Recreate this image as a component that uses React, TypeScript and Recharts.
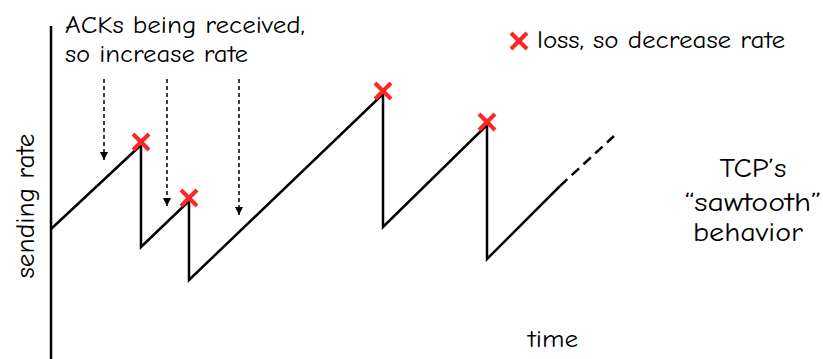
import { LineChart, Line, XAxis, YAxis, ReferenceLine, Customized } from 'recharts';

// sawtooth path: time vs sending rate (arbitrary units)
const sawTime = [0, 9, 9, 13.8, 13.8, 33.2, 33.2, 43.6, 43.6, 50.9];
const sawRate = [13.0, 21.4, 11.2, 15.8, 7.9, 26.5, 13.2, 23.4, 10.0, 17.3];

// dashed continuation
const trendTime = [50.9, 56.3];
const trendRate = [17.3, 22.3];

// loss events (red X)
const lossTime = [9, 13.8, 33.2, 43.6];
const lossRate = [21.4, 15.8, 26.5, 23.4];

// "ACKs being received" arrows
const ackTime = [5.3, 11.6, 18.8];
const ackFrom = [28.0, 28.0, 28.0];
const ackTo = [19.9, 15.3, 14.4];

const font = "'Comic Sans MS', 'Comic Neue', 'Open Sans', sans-serif";
const red = '#ff2626';

const toPoints = (ts: number[], rs: number[]) => ts.map((t, i) => ({ t, r: rs[i] }));

const sawData = toPoints(sawTime, sawRate);
const trendData = toPoints(trendTime, trendRate);
const lossData = toPoints(lossTime, lossRate);
const ackData = ackTime.map((t, i) => toPoints([t, t], [ackFrom[i], ackTo[i]]));

const XMark = ({ cx, cy, size = 8 }: { cx: number; cy: number; size?: number }) => (
  <g stroke={red} strokeWidth={4} strokeLinecap="butt">
    <line x1={cx - size} y1={cy - size} x2={cx + size} y2={cy + size} />
    <line x1={cx - size} y1={cy + size} x2={cx + size} y2={cy - size} />
  </g>
);

const lossDot = (props: any) => (
  <XMark key={`loss-${props.index}`} cx={props.cx} cy={props.cy - 3} />
);

const arrowDot = (props: any) => {
  if (props.index !== 1) return <g key={`a-${props.index}`} />;
  const { cx, cy } = props;
  return <path key={`a-${props.index}`} d={`M${cx - 4},${cy - 8} L${cx + 4},${cy - 8} L${cx},${cy} Z`} fill="#000" />;
};

const Annotations = () => (
  <g fontFamily={font} fill="#000">
    <text x={65} y={33} fontSize={24} textLength={240} lengthAdjust="spacingAndGlyphs">
      ACKs being received,
    </text>
    <text x={65} y={62} fontSize={24} textLength={183} lengthAdjust="spacingAndGlyphs">
      so increase rate
    </text>
    <XMark cx={519} cy={41} />
    <text x={537} y={48} fontSize={24} textLength={248} lengthAdjust="spacingAndGlyphs">
      loss, so decrease rate
    </text>
    <g fontSize={27} textAnchor="middle">
      <text x={753} y={177} textLength={67} lengthAdjust="spacingAndGlyphs">TCP’s</text>
      <text x={753} y={211} textLength={137} lengthAdjust="spacingAndGlyphs">“sawtooth”</text>
      <text x={748} y={241} textLength={110} lengthAdjust="spacingAndGlyphs">behavior</text>
    </g>
    <text x={553} y={347} fontSize={25} textAnchor="middle" textLength={50} lengthAdjust="spacingAndGlyphs">
      time
    </text>
    <text
      x={34}
      y={206}
      fontSize={27}
      textAnchor="middle"
      transform="rotate(-90, 34, 206)"
      textLength={145}
      lengthAdjust="spacingAndGlyphs"
    >
      sending rate
    </text>
  </g>
);

export default function App() {
  return (
    <div style={{ position: 'absolute', left: 0, top: 0, background: '#fff' }}>
      <LineChart width={823} height={359} margin={{ top: 26, right: 172, bottom: 0, left: 51 }}>
        <XAxis dataKey="t" type="number" domain={[0, 60]} hide allowDataOverflow />
        <YAxis type="number" domain={[0, 33.3]} hide allowDataOverflow />
        <ReferenceLine x={0} stroke="#000" strokeWidth={2.5} />
        {ackData.map((d, i) => (
          <Line
            key={`ack-${i}`}
            data={d}
            dataKey="r"
            type="linear"
            stroke="#000"
            strokeWidth={1.5}
            strokeDasharray="4 3"
            dot={arrowDot}
            activeDot={false}
            isAnimationActive={false}
          />
        ))}
        <Line
          data={sawData}
          dataKey="r"
          type="linear"
          stroke="#000"
          strokeWidth={2.5}
          dot={false}
          activeDot={false}
          isAnimationActive={false}
        />
        <Line
          data={trendData}
          dataKey="r"
          type="linear"
          stroke="#000"
          strokeWidth={2.5}
          strokeDasharray="10 6"
          dot={false}
          activeDot={false}
          isAnimationActive={false}
        />
        <Line
          data={lossData}
          dataKey="r"
          type="linear"
          stroke="none"
          dot={lossDot}
          activeDot={false}
          isAnimationActive={false}
        />
        <Customized component={Annotations} />
      </LineChart>
    </div>
  );
}
